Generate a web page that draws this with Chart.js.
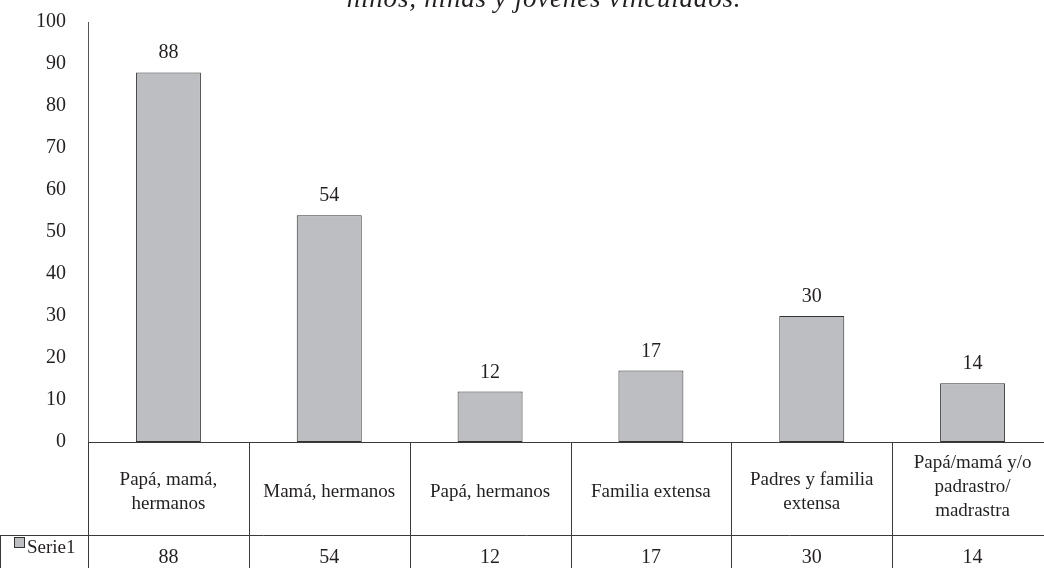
<!DOCTYPE html>
<html>
<head>
<meta charset="utf-8">
<script src="https://cdn.jsdelivr.net/npm/chart.js@4/dist/chart.umd.min.js"></script>
<style>
  html, body { margin: 0; padding: 0; background: #fff; overflow: hidden; width: 1044px; height: 568px; }
  canvas { display: block; }
</style>
</head>
<body>
<canvas id="c" width="1060" height="568"></canvas>
<script>
const titleText = "niños, niñas y jóvenes vinculados.";
const categories = [
  ["Papá, mamá,", "hermanos"],
  ["Mamá, hermanos"],
  ["Papá, hermanos"],
  ["Familia extensa"],
  ["Padres y familia", "extensa"],
  ["Papá/mamá y/o", "padrastro/", "madrastra"]
];
const seriesName = "Serie1";
const values = [88, 54, 12, 17, 30, 14];

const FONT = "'Liberation Serif', 'DejaVu Serif', serif";
const TEXT = "#231f20";
const LINE = "#3a3a3a";
const BAR = "#bdbec2";

const tablePlugin = {
  id: "tablePlugin",
  afterDraw(chart) {
    const ctx = chart.ctx;
    const xs = chart.scales.x;
    const area = chart.chartArea;
    const n = categories.length;
    const half = (xs.getPixelForValue(1) - xs.getPixelForValue(0)) / 2;
    const y0 = area.bottom;
    const yMid = 535.5;
    const yEnd = chart.height;
    ctx.save();
    // title (partially cropped at top)
    ctx.fillStyle = TEXT;
    ctx.font = "italic 27px " + FONT;
    ctx.textAlign = "center";
    ctx.textBaseline = "alphabetic";
    try { ctx.letterSpacing = "0.8px"; } catch (e) {}
    ctx.fillText(titleText, 544, 7);
    try { ctx.letterSpacing = "0px"; } catch (e) {}

    // value labels above bars
    const meta = chart.getDatasetMeta(0);
    ctx.font = "20px " + FONT;
    meta.data.forEach((bar, i) => {
      ctx.fillText(String(values[i]), bar.x, bar.y - 14);
    });

    // table lines
    ctx.strokeStyle = LINE;
    ctx.lineWidth = 1;
    ctx.beginPath();
    const left = Math.round(xs.getPixelForValue(0) - half) + 0.5;
    const right = xs.getPixelForValue(n - 1) + half;
    ctx.moveTo(left, Math.round(y0) + 0.5);
    ctx.lineTo(right, Math.round(y0) + 0.5);
    ctx.moveTo(0, yMid);
    ctx.lineTo(right, yMid);
    for (let i = 0; i <= n; i++) {
      const bx = Math.round(xs.getPixelForValue(0) - half + i * 2 * half) + 0.5;
      ctx.moveTo(bx, Math.round(y0));
      ctx.lineTo(bx, yEnd);
    }
    ctx.moveTo(0.5, yMid);
    ctx.lineTo(0.5, yEnd);
    ctx.stroke();

    // header labels
    ctx.fillStyle = TEXT;
    ctx.font = "19px " + FONT;
    ctx.textAlign = "center";
    ctx.textBaseline = "middle";
    const lh = 24;
    categories.forEach((lines, i) => {
      const cx = xs.getPixelForValue(i);
      const cy = lines.length > 2 ? 487 : 492;
      const start = cy - (lines.length - 1) * lh / 2;
      lines.forEach((t, k) => ctx.fillText(t, cx, start + k * lh));
    });

    // values row
    ctx.textBaseline = "alphabetic";
    ctx.font = "20px " + FONT;
    values.forEach((v, i) => {
      ctx.fillText(String(v), xs.getPixelForValue(i), 563);
    });

    // legend key + series name
    ctx.fillStyle = BAR;
    ctx.fillRect(14.5, 537.5, 10, 10);
    ctx.strokeStyle = "#333";
    ctx.strokeRect(14.5, 537.5, 10, 10);
    ctx.fillStyle = TEXT;
    ctx.textAlign = "left";
    ctx.font = "19px " + FONT;
    ctx.fillText(seriesName, 27, 553);
    ctx.restore();
  }
};

new Chart(document.getElementById("c"), {
  type: "bar",
  data: {
    labels: categories.map(l => l.join(" ")),
    datasets: [{
      label: seriesName,
      data: values,
      backgroundColor: BAR,
      borderColor: "#333",
      borderWidth: 1,
      borderSkipped: false,
      categoryPercentage: 1,
      barPercentage: 0.404
    }]
  },
  options: {
    responsive: false,
    animation: false,
    devicePixelRatio: 1,
    layout: { padding: { left: 0, right: 7, top: 22, bottom: 126 } },
    plugins: { legend: { display: false }, title: { display: false }, tooltip: { enabled: false } },
    scales: {
      x: { display: false },
      y: {
        min: 0, max: 100,
        afterFit(scale) { scale.width = 88; scale.paddingTop = 0; scale.paddingBottom = 0; },
        ticks: { stepSize: 10, padding: 22, color: TEXT, font: { family: FONT, size: 20 } },
        grid: { display: false, drawTicks: false },
        border: { display: true, color: "#555", width: 1 }
      }
    }
  },
  plugins: [tablePlugin]
});
</script>
</body>
</html>
